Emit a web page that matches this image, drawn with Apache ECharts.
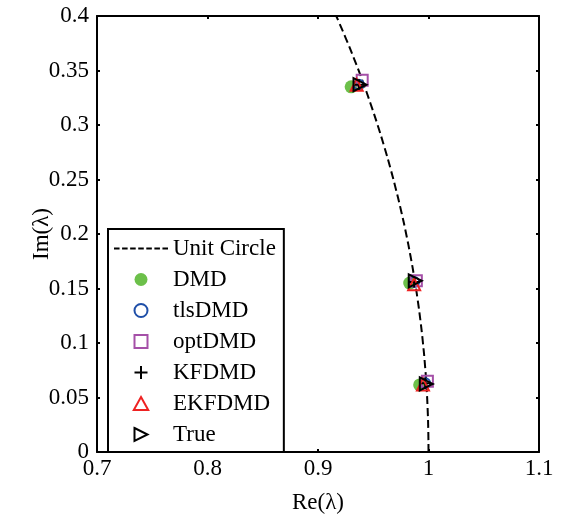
<!DOCTYPE html>
<html>
<head>
<meta charset="utf-8">
<script src="https://cdn.jsdelivr.net/npm/echarts@6/dist/echarts.min.js"></script>
<style>
html,body{margin:0;padding:0;background:#fff;}
#c{width:566px;height:519px;}
</style>
</head>
<body>
<div id="c"></div>
<script>
// ---- data ----
var xTicks = [0.7, 0.8, 0.9, 1.0, 1.1];
var yTicks = [0, 0.05, 0.1, 0.15, 0.2, 0.25, 0.3, 0.35, 0.4];
var seriesNames = ['Unit Circle', 'DMD', 'tlsDMD', 'optDMD', 'KFDMD', 'EKFDMD', 'True'];
// eigenvalues [Re, Im]
var dmd    = [[0.930, 0.335], [0.983, 0.155], [0.992, 0.0615]];
var tlsdmd = [[0.937, 0.337], [0.987, 0.156], [0.997, 0.063]];
var optdmd = [[0.940, 0.341], [0.989, 0.157], [0.999, 0.065]];
var kfdmd  = [[0.937, 0.337], [0.987, 0.156], [0.997, 0.063]];
var ekfdmd = [[0.935, 0.337], [0.987, 0.154], [0.995, 0.062]];
var trueEig= [[0.938, 0.337], [0.988, 0.157], [0.998, 0.0625]];
// unit circle reference curve |z| = 1 (geometric definition)
var circleIm = [0, 0.02, 0.04, 0.06, 0.08, 0.1, 0.12, 0.14, 0.16, 0.18, 0.2, 0.22, 0.24, 0.26, 0.28, 0.3, 0.32, 0.34, 0.36, 0.38, 0.4];
var unitCircle = circleIm.map(function (y) { return [Math.sqrt(1 - y * y), y]; });

var FONT = 'Liberation Serif';
var FS = 23;
var chart = echarts.init(document.getElementById('c'), null, {renderer: 'canvas'});

var plusPath = 'path://M5,0 L5,10 M0,5 L10,5';
var rightTri = 'path://M0,0 L10,5 L0,10 Z';
var upTri = 'path://M5,0 L10,9 L0,9 Z';
var square = 'path://M0,0 L10,0 L10,10 L0,10 Z';
// dashed-line legend icon: 7 filled dashes
var dashIcon = 'path://M0,0h5.5v2h-5.5z M8,0h5.5v2h-5.5z M16,0h5.5v2h-5.5z M24,0h5.5v2h-5.5z M32,0h5.5v2h-5.5z M40,0h5.5v2h-5.5z M48,0h5.5v2h-5.5z';

function axisCommon(extra) {
  return Object.assign({
    type: 'value',
    axisLine: {show: true, onZero: false, lineStyle: {color: '#000', width: 2}},
    axisTick: {show: true, inside: true, length: 3, lineStyle: {color: '#000', width: 2}},
    splitLine: {show: false}
  }, extra);
}

var xMin = xTicks[0], xMax = xTicks[xTicks.length - 1], xInt = +(xTicks[1] - xTicks[0]).toFixed(3);
var yMin = yTicks[0], yMax = yTicks[yTicks.length - 1], yInt = +(yTicks[1] - yTicks[0]).toFixed(3);

function fmt(v) { return String(+v.toFixed(3)); }

var option = {
  animation: false,
  backgroundColor: '#fff',
  textStyle: {fontFamily: FONT},
  grid: {left: 97, top: 16, right: 27, bottom: 61, containLabel: false},
  xAxis: [
    axisCommon({
      min: xMin, max: xMax, interval: xInt, position: 'bottom',
      name: 'Re(λ)', nameLocation: 'middle', nameGap: 39, nameMoveOverlap: false,
      nameTextStyle: {fontFamily: FONT, fontSize: FS, color: '#000'},
      axisLabel: {fontFamily: FONT, fontSize: FS, color: '#000', margin: 5, formatter: fmt}
    }),
    axisCommon({
      min: xMin, max: xMax, interval: xInt, position: 'top',
      axisLabel: {show: false}
    })
  ],
  yAxis: [
    axisCommon({
      min: yMin, max: yMax, interval: yInt, position: 'left',
      name: 'Im(λ)', nameLocation: 'middle', nameGap: 44, nameMoveOverlap: false,
      nameTextStyle: {fontFamily: FONT, fontSize: FS, color: '#000'},
      axisLabel: {fontFamily: FONT, fontSize: FS, color: '#000', margin: 8, formatter: fmt}
    }),
    axisCommon({
      min: yMin, max: yMax, interval: yInt, position: 'right',
      axisLabel: {show: false}
    })
  ],
  legend: {
    orient: 'vertical',
    left: 108, top: 229,
    backgroundColor: '#fff',
    borderColor: '#000', borderWidth: 2,
    padding: [8, 8, 6, 6],
    itemWidth: 54, itemHeight: 13, itemGap: 8, itemTextGap: 6,
    textStyle: {fontFamily: FONT, fontSize: FS, color: '#000', lineHeight: 22},
    data: [
      {name: 'Unit Circle', icon: dashIcon, itemStyle: {color: '#000', borderWidth: 0}},
      {name: 'DMD', icon: 'circle', itemStyle: {color: '#6cc04a'}},
      {name: 'tlsDMD', icon: 'circle', itemStyle: {color: '#fff', borderColor: '#1f4fa8', borderWidth: 2}},
      {name: 'optDMD', icon: square, itemStyle: {color: '#fff', borderColor: '#a550a8', borderWidth: 2}},
      {name: 'KFDMD', icon: plusPath, itemStyle: {color: '#000', borderColor: '#000', borderWidth: 2}},
      {name: 'EKFDMD', icon: upTri, itemStyle: {color: '#fff', borderColor: '#ee2222', borderWidth: 2}},
      {name: 'True', icon: rightTri, itemStyle: {color: '#fff', borderColor: '#000', borderWidth: 2}}
    ]
  },
  series: [
    {
      name: 'Unit Circle', type: 'line', data: unitCircle, smooth: true,
      symbol: 'none', lineStyle: {color: '#000', width: 2, type: [8, 4]},
      itemStyle: {color: '#000'}, z: 1
    },
    {
      name: 'DMD', type: 'scatter', data: dmd, symbol: 'circle', symbolSize: 13,
      itemStyle: {color: '#6cc04a', opacity: 1}, z: 2
    },
    {
      name: 'tlsDMD', type: 'scatter', data: tlsdmd, symbol: 'circle', symbolSize: 10,
      itemStyle: {color: 'rgba(0,0,0,0)', borderColor: '#1f4fa8', borderWidth: 2, opacity: 1}, z: 3
    },
    {
      name: 'optDMD', type: 'scatter', data: optdmd, symbol: square, symbolSize: 11,
      itemStyle: {color: 'rgba(0,0,0,0)', borderColor: '#a550a8', borderWidth: 2, opacity: 1}, z: 4
    },
    {
      name: 'KFDMD', type: 'scatter', data: kfdmd, symbol: plusPath, symbolSize: 11,
      itemStyle: {color: '#000', borderColor: '#000', borderWidth: 2, opacity: 1}, z: 5
    },
    {
      name: 'EKFDMD', type: 'scatter', data: ekfdmd, symbol: upTri, symbolSize: 12,
      itemStyle: {color: 'rgba(0,0,0,0)', borderColor: '#ee2222', borderWidth: 2, opacity: 1}, z: 6
    },
    {
      name: 'True', type: 'scatter', data: trueEig, symbol: rightTri, symbolSize: 13,
      itemStyle: {color: 'rgba(0,0,0,0)', borderColor: '#000', borderWidth: 2, opacity: 1}, z: 7
    }
  ]
};
chart.setOption(option);
</script>
</body>
</html>
